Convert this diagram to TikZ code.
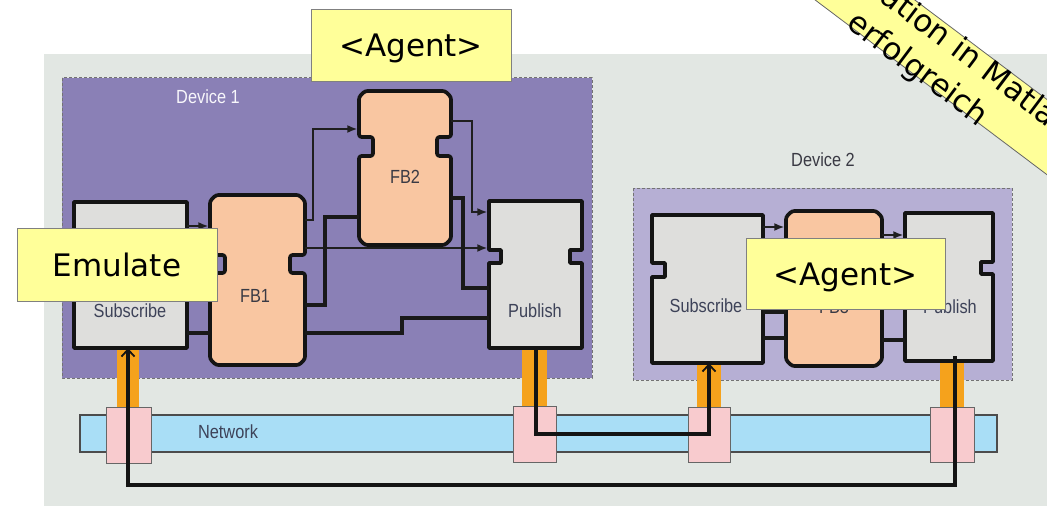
\documentclass[tikz,border=0pt]{standalone}
\usepackage{fontspec}
\usetikzlibrary{arrows.meta,fit}
\newfontfamily\notefont{DejaVu Sans}
\newfontfamily\lblfont[FakeStretch=0.86]{Liberation Sans}

\definecolor{panel}{HTML}{E2E7E3}
\definecolor{devA}{HTML}{8A80B6}
\definecolor{devB}{HTML}{B6AFD4}
\definecolor{blockgray}{HTML}{DEDEDC}
\definecolor{peach}{HTML}{F9C6A1}
\definecolor{netblue}{HTML}{A9DEF6}
\definecolor{portpink}{HTML}{F8CBCE}
\definecolor{busorange}{HTML}{F5A21C}
\definecolor{notey}{HTML}{FFFF99}
\definecolor{lbltext}{HTML}{3D4258}
\definecolor{fbtext}{HTML}{3A3A44}

% notch cut into the right side (going down) / left side (going up)
\newcommand{\notchR}[4]{-- (#1,#2) -- ({#1-#4},#2) -- ({#1-#4},#3) -- (#1,#3)}
\newcommand{\notchL}[4]{-- (#1,#3) -- ({#1+#4},#3) -- ({#1+#4},#2) -- (#1,#2)}

\tikzset{
  blk/.style={draw=black!92, line width=3.7pt, line join=round},
  fbblk/.style={blk, fill=peach, rounded corners=2.5pt},
  gblk/.style={blk, fill=blockgray},
  area/.style={inner sep=0pt, draw=none},
  ev/.style={draw=black!88, line width=1.7pt, shorten >=1.5pt, -{Latex[length=10pt,width=8pt]}},
  dat/.style={draw=black!90, line width=3.2pt},
  bus/.style={draw=black!92, line width=3.2pt, -{Straight Barb[length=7pt,width=13pt,line width=1.8pt]}},
  devbox/.style={draw=black!55, line width=1pt, dash pattern=on 3pt off 2pt},
  port/.style={fill=portpink, draw=black!60, line width=1pt, inner sep=0pt},
  note/.style={fill=notey, draw=black!50, line width=0.8pt, inner sep=0pt,
    font=\notefont\fontsize{31}{37}\selectfont, text height=24pt, text depth=0pt},
  lbl/.style={font=\lblfont\fontsize{19}{22}\selectfont, text=lbltext, inner sep=0pt},
}

\begin{document}
\begin{tikzpicture}[x=1pt,y=-1pt]
\useasboundingbox (0,0) rectangle (1047,508);
\clip (0,0) rectangle (1047,508);
\fill[panel] (44,54) rectangle (1047,506);

% devices
\draw[devbox, fill=devA] (62,78) rectangle (592,378);
\node[lbl, text=white!94!devA] (dev1) at (208,97) {Device 1};
\draw[devbox, fill=devB] (633,188) rectangle (1012,380);
\node[lbl, text=fbtext] (dev2) at (823,160) {Device 2};

% drops from the devices to the network
\fill[busorange] (117,346) rectangle (139,408);
\fill[busorange] (522,346) rectangle (547,408);
\fill[busorange] (697,361) rectangle (721,408);
\fill[busorange] (940,359) rectangle (964,408);

% network
\draw[fill=netblue, draw=black!70, line width=1.2pt] (80,415) rectangle (997,452);
\node[lbl] (net) at (228,432) {Network};
\node[port, minimum width=45, minimum height=56] (p1) at (128.5,435) {};
\node[port, minimum width=43, minimum height=56] (p2) at (534.5,434) {};
\node[port, minimum width=42, minimum height=55] (p3) at (709,434.5) {};
\node[port, minimum width=44, minimum height=55] (p4) at (952,434.5) {};

% device 1 blocks
\draw[gblk] (74,202) -- (187,202) -- (187,348) -- (74,348) \notchL{74}{255}{268}{12} -- cycle;
\node[area, fit={(74,202)(187,348)}] (sub1) {};
\draw[fbblk] (216,195) -- (299,195) -- (305,201) \notchR{305}{255}{273}{15} -- (305,359) -- (299,365)
  -- (216,365) -- (210,359) \notchL{210}{255}{273}{15} -- (210,201) -- cycle;
\node[area, fit={(210,195)(305,365)}] (fb1) {};
\draw[fbblk] (365,91) -- (445,91) -- (451,97) \notchR{451}{137}{156}{14} -- (451,239) -- (445,245)
  -- (365,245) -- (359,239) \notchL{359}{137}{156}{14} -- (359,97) -- cycle;
\node[area, fit={(359,91)(451,245)}] (fb2) {};
\draw[gblk] (489,201) -- (582,201) \notchR{582}{250}{263}{12} -- (582,348) -- (489,348) \notchL{489}{250}{263}{12} -- cycle;
\node[area, fit={(489,201)(582,348)}] (pub1) {};

% device 2 blocks
\draw[gblk] (652,215) -- (763,215) -- (763,363) -- (652,363) \notchL{652}{263}{277}{13} -- cycle;
\node[area, fit={(652,215)(763,363)}] (sub2) {};
\draw[fbblk] (792,211) -- (876,211) -- (882,217) \notchR{882}{262}{276}{14} -- (882,360) -- (876,366)
  -- (792,366) -- (786,360) \notchL{786}{262}{276}{14} -- (786,217) -- cycle;
\node[area, fit={(786,211)(882,366)}] (fb3) {};
\draw[gblk] (905,213) -- (993,213) \notchR{993}{262}{274}{12} -- (993,361) -- (905,361) \notchL{905}{262}{274}{12} -- cycle;
\node[area, fit={(905,213)(993,361)}] (pub2) {};

% block labels
\node[lbl] (sub1-t) at (130,311) {Subscribe};
\node[lbl, text=fbtext] (fb1-t) at (255,296) {FB1};
\node[lbl, text=fbtext] (fb2-t) at (405,177) {FB2};
\node[lbl] (pub1-t) at (535,311) {Publish};
\node[lbl] (sub2-t) at (706,306) {Subscribe};
\node[lbl, text=fbtext] (fb3-t) at (834,307) {FB3};
\node[lbl] (pub2-t) at (950,307) {Publish};

% event connections
\draw[ev] (sub1.east |- 0,226) -- (fb1.west |- 0,226);
\draw[ev] (fb1.east |- 0,220) -- (313,220) |- (fb2.west |- 0,129);
\draw[ev] (fb1.east |- 0,248) -- (pub1.west |- 0,248);
\draw[ev] (fb2.east |- 0,121) -| (472,212) -- (pub1.west |- 0,212);
\draw[ev] (sub2.east |- 0,227) -- (fb3.west |- 0,227);
\draw[ev] (fb3.east |- 0,235) -- (pub2.west |- 0,235);

% data connections
\draw[dat] (sub1.east |- 0,333) -- (fb1.west |- 0,333);
\draw[dat] (fb1.east |- 0,305) -| (325,217) -- (fb2.west |- 0,217);
\draw[dat] (fb2.east |- 0,198) -| (463,288) -- (pub1.west |- 0,288);
\draw[dat] (fb1.east |- 0,333) -| (402,318) -- (pub1.west |- 0,318);
\draw[dat] (sub2.east |- 0,312) -- (fb3.west |- 0,312);
\draw[dat] (sub2.east |- 0,338) -- (fb3.west |- 0,338);
\draw[dat] (fb3.east |- 0,340) -- (pub2.west |- 0,340);

% messages over the network
\coordinate (tap2) at (955,356);
\draw[bus] (pub1.south -| 536,0) -- (536,434) -| (sub2.south -| 709,0);
\draw[bus] (tap2) -- (955,485) -| (sub1.south -| 128,0);

% sticky notes
\node[note, minimum width=200, minimum height=72] (agent1) at (411,45) {<Agent>};
\node[note, minimum width=200, minimum height=73] (emu) at (117,264.5) {Emulate};
\node[note, minimum width=199, minimum height=71] (agent2) at (845.5,273.5) {<Agent>};

% diagonal banner
\node[fill=notey, draw=black!60, line width=0.8pt, rotate=-37, minimum width=800, minimum height=60] (banner) at (931.9,50.4) {};
\node[rotate=-37, inner sep=0pt, align=center, font=\notefont\fontsize{31}{41}\selectfont] (verdict) at (929.5,53.6)
  {Simulation in Matlab\\erfolgreich};
\end{tikzpicture}
\end{document}
